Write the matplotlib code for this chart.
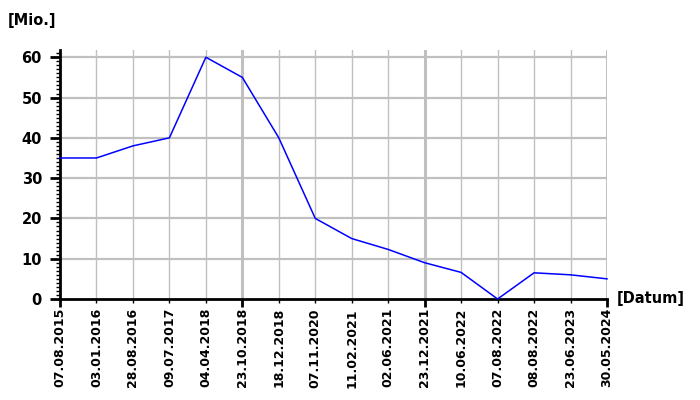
import matplotlib
matplotlib.use("Agg")
import matplotlib.pyplot as plt
from matplotlib.ticker import MultipleLocator

plt.rcParams['font.family'] = ['DejaVu Sans']
plt.rcParams['font.weight'] = 'bold'

dates = ['07.08.2015', '03.01.2016', '28.08.2016', '09.07.2017', '04.04.2018',
         '23.10.2018', '18.12.2018', '07.11.2020', '11.02.2021', '02.06.2021',
         '23.12.2021', '10.06.2022', '07.08.2022', '08.08.2022', '23.06.2023',
         '30.05.2024']
values = [35, 35, 38, 40, 60, 55, 40, 20, 15, 12.3, 9, 6.6, 0, 6.5, 6, 5]

grid_color = '#c0c0c0'

fig = plt.figure(figsize=(7, 4), dpi=100)
ax = fig.add_axes([60 / 700, 1 - 299 / 400, 547 / 700, 249 / 400])

x = list(range(len(dates)))
ax.set_xlim(0, len(dates) - 1)
ax.set_ylim(0, 61.8)

# grid: horizontal every 10, vertical at each date, thicker every 5th
ax.yaxis.set_major_locator(MultipleLocator(10))
ax.yaxis.set_minor_locator(MultipleLocator(1))
for v in range(10, 61, 10):
    ax.axhline(v, color=grid_color, lw=1.6, zorder=0)
for i in x[1:]:
    ax.axvline(i, color=grid_color, lw=2.2 if i % 5 == 0 else 1.0, zorder=0)

ax.plot(x, values, color='#0000ff', lw=1.1, clip_on=False, zorder=3)

ax.spines['top'].set_visible(False)
ax.spines['right'].set_visible(False)
ax.spines['left'].set_linewidth(2)
ax.spines['bottom'].set_linewidth(2)

ax.set_xticks(x)
ax.set_xticklabels(dates, rotation=90, fontsize=9)
ax.tick_params(axis='x', length=3, width=1, pad=3.5)
for i, t in enumerate(ax.xaxis.get_major_ticks()):
    if i % 5 == 0:
        t.tick1line.set_markersize(6)
        t.tick1line.set_markeredgewidth(2)

ax.tick_params(axis='y', which='major', length=7, width=2, labelsize=10.5, pad=6)
ax.tick_params(axis='y', which='minor', length=3, width=1)

fig.text(8 / 700, 1 - 20 / 400, '[Mio.]', fontsize=10.5, va='center', ha='left')
fig.text(617 / 700, 1 - 299 / 400, '[Datum]', fontsize=10.5, va='center', ha='left')

fig.savefig('out.png', dpi=100)
